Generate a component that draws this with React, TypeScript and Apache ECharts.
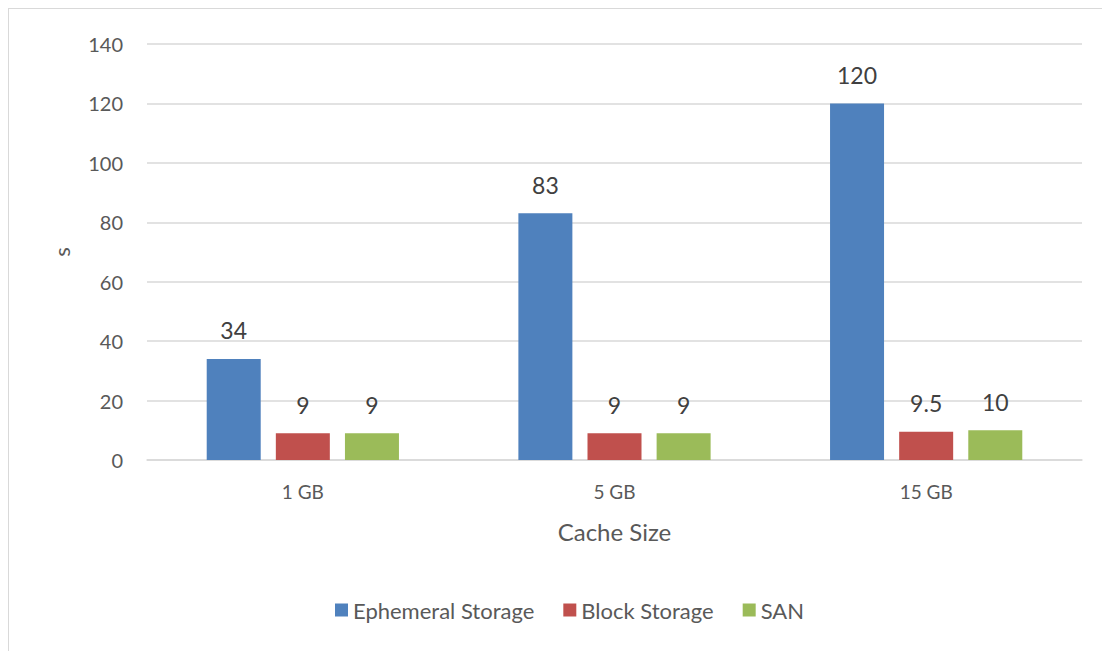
import React, { useEffect, useRef } from "react";
import * as echarts from "echarts";

const categories = ["1 GB", "5 GB", "15 GB"];
const ephemeral = [34, 83, 120];
const block = [9, 9, 9.5];
const san = [9, 9, 10];
const seriesNames = ["Ephemeral Storage", "Block Storage", "SAN"];
const colors = ["#4F81BD", "#C0504D", "#9BBB59"];

const FONT = "Lato, 'Open Sans', sans-serif";

export default function App() {
  const ref = useRef<HTMLDivElement>(null);
  useEffect(() => {
    const chart = echarts.init(ref.current!, null, { renderer: "svg" });
    const label = {
      show: true,
      position: "top",
      distance: 17,
      color: "#404040",
      fontSize: 23,
      fontFamily: FONT,
    };
    const mk = (name: string, data: number[], color: string) => ({
      name,
      type: "bar",
      data,
      barWidth: 54,
      barGap: "28%",
      itemStyle: { color },
      label,
    });
    chart.setOption({
      animation: false,
      textStyle: { fontFamily: FONT },
      graphic: [
        { type: "line", shape: { x1: 0.5, y1: 0, x2: 0.5, y2: 700 }, style: { stroke: "#D9D9D9", lineWidth: 1 } },
        { type: "line", shape: { x1: 0, y1: 0.5, x2: 1200, y2: 0.5 }, style: { stroke: "#D9D9D9", lineWidth: 1 } },
      ],
      grid: { left: 139, right: 28, top: 36, bottom: 191 },
      legend: {
        data: seriesNames,
        left: 322,
        top: 586,
        itemWidth: 13,
        itemHeight: 13,
        itemGap: 29,
        icon: "rect",
        textStyle: { color: "#595959", fontSize: 22, fontFamily: FONT },
      },
      xAxis: {
        type: "category",
        data: categories,
        name: "Cache Size",
        nameLocation: "middle",
        nameGap: 59,
        nameTextStyle: { color: "#595959", fontSize: 24, fontFamily: FONT },
        axisLine: { lineStyle: { color: "#D9D9D9", width: 1.5 } },
        axisTick: { show: false },
        axisLabel: { color: "#595959", fontSize: 19, margin: 22, fontFamily: FONT },
      },
      yAxis: {
        type: "value",
        min: 0,
        max: 140,
        interval: 20,
        name: "s",
        nameLocation: "middle",
        nameGap: 75,
        nameRotate: 90,
        nameTextStyle: { color: "#595959", fontSize: 22, fontFamily: FONT },
        axisLine: { show: false },
        axisTick: { show: false },
        axisLabel: { color: "#595959", fontSize: 20, margin: 24, fontFamily: FONT },
        splitLine: { lineStyle: { color: "#D9D9D9", width: 1.5 } },
      },
      series: [
        mk(seriesNames[0], ephemeral, colors[0]),
        mk(seriesNames[1], block, colors[1]),
        mk(seriesNames[2], san, colors[2]),
      ],
    });
    return () => chart.dispose();
  }, []);
  return <div ref={ref} style={{ width: 1102, height: 643 }} />;
}
